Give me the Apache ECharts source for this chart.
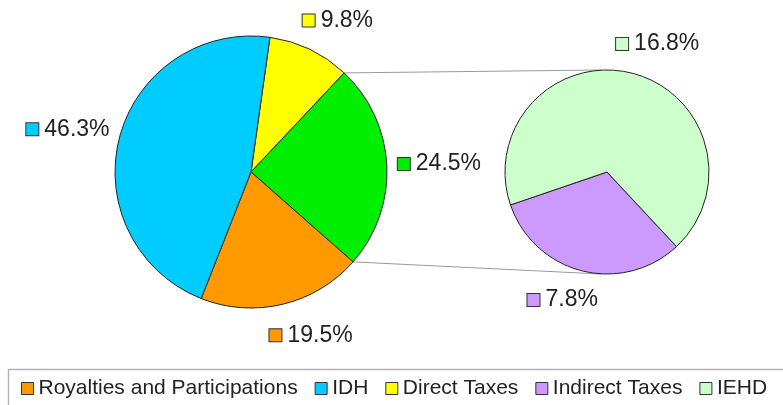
<!DOCTYPE html>
<html>
<head>
<meta charset="utf-8">
<script src="https://cdn.jsdelivr.net/npm/echarts@6/dist/echarts.min.js"></script>
<style>
	html, body { margin: 0; padding: 0; background: #fff; }
	#main { width: 783px; height: 405px; }
</style>
</head>
<body>
<div id="main"></div>
<script>
// main pie, clockwise from the top
var mainNames = ['Direct Taxes', 'Other', 'Royalties and Participations', 'IDH'];
var mainValues = [9.8, 24.5, 19.5, 46.3];
var mainColors = ['#ffff00', '#00ee00', '#ff9900', '#00ccff'];

// breakdown of "Other" (second pie)
var subNames = ['Indirect Taxes', 'IEHD'];
var subValues = [7.8, 16.8];
var subColors = ['#cc99ff', '#ccffcc'];

var legendNames = ['Royalties and Participations', 'IDH', 'Direct Taxes', 'Indirect Taxes', 'IEHD'];
var splitIndex = 1; // slice that is broken out

var font = 'Arial, "Liberation Sans", sans-serif';
var mainCenter = [251, 172], mainRadius = 136, mainStart = 82;
var subCenter = [607, 172], subRadius = 102, subStart = 313;

function makeData (names, values, colors) {
	return names.map(function (n, i) {
		return { name: n, value: values[i], itemStyle: { color: colors[i] } };
	});
}

function makeRich (colors) {
	var rich = {
		t: { fontSize: 23, color: '#222', fontFamily: font, padding: [0, 0, 0, 6] }
	};
	colors.forEach(function (c, i) {
		rich['c' + i] = { width: 12, height: 12, backgroundColor: c, borderColor: '#333', borderWidth: 1 };
	});
	return rich;
}

function makeLabel (colors) {
	return {
		position: 'outside',
		formatter: function (p) {
			return '{c' + p.dataIndex + '|}{t|' + p.value.toFixed(1) + '%}';
		},
		rich: makeRich(colors)
	};
}

// edge points of the broken-out slice -> connector lines
var total = mainValues.reduce(function (a, b) { return a + b }, 0);
var before = 0;
for (var i = 0; i < splitIndex; i++) before += mainValues[i];
var angA = (mainStart - 360 * before / total) * Math.PI / 180;
var angB = (mainStart - 360 * (before + mainValues[splitIndex]) / total) * Math.PI / 180;
var pA = [mainCenter[0] + mainRadius * Math.cos(angA), mainCenter[1] - mainRadius * Math.sin(angA)];
var pB = [mainCenter[0] + mainRadius * Math.cos(angB), mainCenter[1] - mainRadius * Math.sin(angB)];

var chart = echarts.init(document.getElementById('main'));
var option = {
	animation: false,
	legend: {
		data: legendNames,
		left: 21,
		top: 378,
		padding: 0,
		itemGap: 17,
		itemWidth: 12,
		itemHeight: 12,
		icon: 'rect',
		itemStyle: { borderColor: '#333', borderWidth: 1 },
		textStyle: { fontSize: 21, color: '#222', fontFamily: font }
	},
	graphic: [
		{ type: 'rect', shape: { x: 8.5, y: 369.5, width: 800, height: 60 },
			style: { fill: 'none', stroke: '#b4b4b4', lineWidth: 1.5 }, z: -1 },
		{ type: 'line', shape: { x1: pA[0], y1: pA[1], x2: subCenter[0] - 6, y2: subCenter[1] - subRadius },
			style: { stroke: '#999', lineWidth: 1 }, z: -1 },
		{ type: 'line', shape: { x1: pB[0], y1: pB[1], x2: subCenter[0] - 6, y2: subCenter[1] + subRadius },
			style: { stroke: '#999', lineWidth: 1 }, z: -1 }
	],
	series: [
		{
			type: 'pie',
			center: mainCenter,
			radius: mainRadius,
			startAngle: mainStart,
			clockwise: true,
			avoidLabelOverlap: false,
			itemStyle: { borderColor: '#222', borderWidth: 1 },
			label: makeLabel(mainColors),
			labelLine: { show: false, length: 32, length2: 0 },
			labelLayout: function (p) {
				return { dx: p.align === 'left' ? -26 : 26 };
			},
			emphasis: { disabled: true },
			data: makeData(mainNames, mainValues, mainColors)
		},
		{
			type: 'pie',
			center: subCenter,
			radius: subRadius,
			startAngle: subStart,
			clockwise: true,
			avoidLabelOverlap: false,
			itemStyle: { borderColor: '#222', borderWidth: 1 },
			label: makeLabel(subColors),
			labelLine: { show: false, length: 30, length2: 0 },
			labelLayout: function (p) {
				return { dx: p.align === 'left' ? -28 : 28 };
			},
			emphasis: { disabled: true },
			data: makeData(subNames, subValues, subColors)
		}
	]
};
chart.setOption(option);
</script>
</body>
</html>
